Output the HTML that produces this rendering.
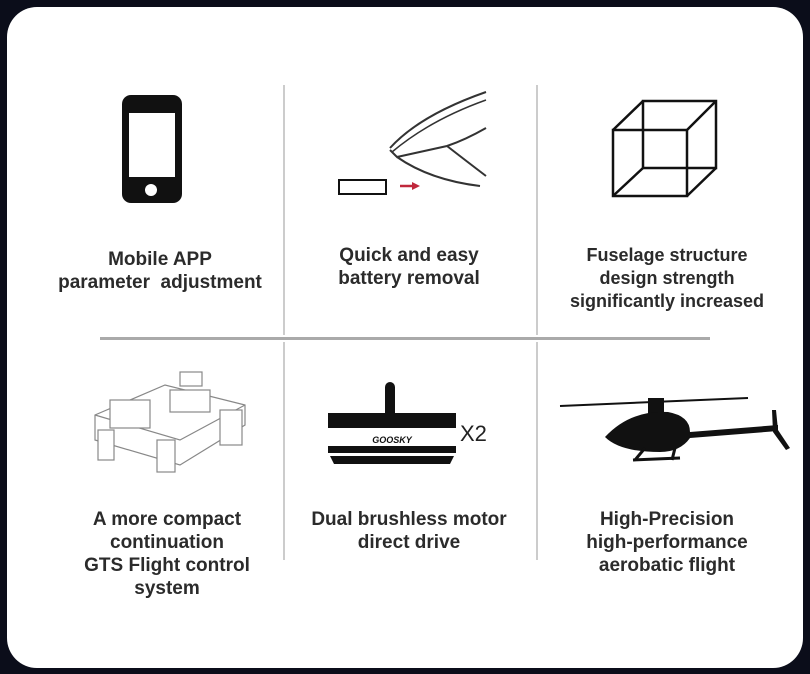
<!DOCTYPE html>
<html><head><style>
body{margin:0;width:810px;height:674px;background:#0b0d1a;overflow:hidden;position:relative;font-family:"Liberation Sans",sans-serif}
.card{position:absolute;left:7px;top:7px;width:796px;height:661px;background:#fff;border-radius:30px}
.t{position:absolute;text-align:center;font-weight:bold;font-size:19px;line-height:23px;color:#2b2b2b;width:260px}
.v{position:absolute;width:2px;background:#ccc}
</style></head><body>
<div class="card"></div>
<div class="v" style="left:283px;top:85px;height:250px"></div>
<div class="v" style="left:536px;top:85px;height:250px"></div>
<div class="v" style="left:283px;top:342px;height:218px"></div>
<div class="v" style="left:536px;top:342px;height:218px"></div>
<div style="position:absolute;left:100px;top:337px;width:610px;height:3px;background:#aaa"></div>

<svg style="position:absolute;left:0;top:0" width="810" height="674">
<!-- phone -->
<rect x="122" y="95" width="60" height="108" rx="9" fill="#111"/>
<rect x="129" y="113" width="46" height="64" fill="#fff"/>
<circle cx="151" cy="190" r="6" fill="#fff"/>
<!-- canopy -->
<g fill="none" stroke="#333" stroke-width="2">
<path d="M390 148 Q420 115 486 92"/>
<path d="M392 152 Q430 120 486 100" stroke-width="1.5"/>
<path d="M390 150 L397 157 L447 146 Q465 140 486 128"/>
<path d="M447 146 Q465 160 486 176"/>
<path d="M397 157 Q430 180 480 186"/>
</g>
<rect x="339" y="180" width="47" height="14" fill="#fff" stroke="#111" stroke-width="2"/>
<path d="M400 186 L414 186" stroke="#c0283c" stroke-width="2.5"/>
<path d="M412 182 L420 186 L412 190 Z" fill="#c0283c"/>
<!-- cube -->
<g fill="none" stroke="#111" stroke-width="2.5">
<rect x="613" y="130" width="74" height="66"/>
<rect x="643" y="101" width="73" height="67"/>
<path d="M613 130 L643 101 M687 130 L716 101 M613 196 L643 168 M687 196 L716 168"/>
</g>
<!-- flight controller -->
<g fill="#fff" stroke="#888" stroke-width="1.2">
<path d="M95 440 L180 465 L245 425 L245 405 L165 385 L95 415 Z"/>
<path d="M95 415 L180 440 L245 405" fill="none"/>
<rect x="110" y="400" width="40" height="28"/>
<rect x="170" y="390" width="40" height="22"/>
<rect x="220" y="410" width="22" height="35"/>
<rect x="157" y="440" width="18" height="32"/>
<rect x="98" y="430" width="16" height="30"/>
<rect x="180" y="372" width="22" height="14"/>
</g>
<!-- motor -->
<rect x="385" y="382" width="10" height="40" rx="5" fill="#111"/>
<path d="M328 413 H456 V428 H328 Z" fill="#111"/>
<path d="M328 446 H456 V453 H328 Z" fill="#111"/>
<path d="M330 456 H454 L450 464 H334 Z" fill="#111"/>
<text x="392" y="443" font-size="9" font-style="italic" font-weight="bold" text-anchor="middle" fill="#111" font-family="Liberation Sans,sans-serif">GOOSKY</text>
<text x="460" y="441" font-size="22" fill="#222" font-family="Liberation Sans,sans-serif">X2</text>
<!-- helicopter -->
<path d="M560 406 L748 398" stroke="#111" stroke-width="2"/>
<rect x="648" y="398" width="16" height="18" fill="#111"/>
<path d="M605 437 Q630 410 668 412 Q690 416 690 432 L778 425 L778 431 L690 438 Q680 452 660 452 Q620 452 605 437 Z" fill="#111"/>
<path d="M772 410 L776 410 L778 430 L790 448 L786 450 L773 432 Z" fill="#111"/>
<path d="M645 448 L635 460 M675 448 L672 460" stroke="#111" stroke-width="3"/>
<path d="M633 460 L680 458" stroke="#111" stroke-width="3"/>
</svg>

<div class="t" style="left:30px;top:248px">Mobile APP<br>parameter&nbsp; adjustment</div>
<div class="t" style="left:279px;top:244px">Quick and easy<br>battery removal</div>
<div class="t" style="left:537px;top:244px;font-size:18px">Fuselage structure<br>design strength<br>significantly increased</div>
<div class="t" style="left:37px;top:508px">A more compact<br>continuation<br>GTS Flight control<br>system</div>
<div class="t" style="left:279px;top:508px">Dual brushless motor<br>direct drive</div>
<div class="t" style="left:537px;top:508px">High-Precision<br>high-performance<br>aerobatic flight</div>
</body></html>
